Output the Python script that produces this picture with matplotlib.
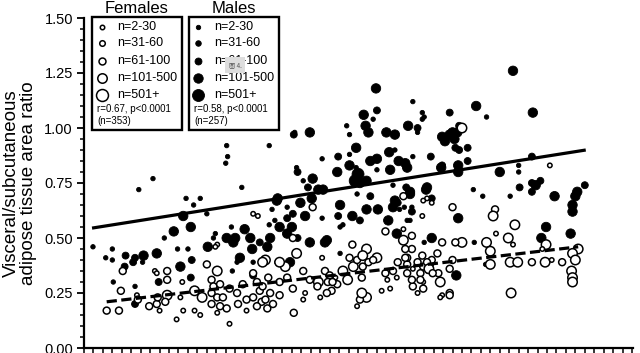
import numpy as np
import matplotlib
matplotlib.use("Agg")
import matplotlib.pyplot as plt
from matplotlib.ticker import MultipleLocator, FormatStrFormatter, NullFormatter
from matplotlib.patches import Rectangle

plt.rcParams['font.family'] = ['Liberation Sans', 'DejaVu Sans']

# size classes (study n)
size_labels = ['n=2-30', 'n=31-60', 'n=61-100', 'n=101-500', 'n=501+']
size_pt = [3.2, 4.0, 5.0, 6.8, 8.6]   # marker diameter, points

# males (filled): x, ratio, size class
male_x = [0.95, 2.3, 3.0, 3.0, 3.1, 4.4, 4.3, 5.4, 6.3, 7.7, 6.2, 5.8, 7.3, 5.4, 8.5, 9.5, 10.5, 11.3, 10.2, 7.9,
          11.3, 10.8, 11.6, 9.9, 5.2, 5.4, 11.4, 11.0,
          15.1, 15.2, 15.0, 19.6, 16.7, 12.3, 13.0, 19.9, 20.4, 19.6, 15.6, 17.0, 15.1, 16.0, 17.6, 19.7, 13.9, 13.7,
          13.1, 15.8, 17.8, 16.5, 16.2, 17.9, 15.7, 18.6,
          22.2, 23.9, 29.6, 30.6, 34.3, 36.0, 35.8, 38.7, 39.7, 27.8, 29.8, 30.1, 28.1, 32.0, 32.9, 35.3, 37.9, 38.7,
          38.2, 39.5,
          28.8, 28.1, 26.9, 25.2, 32.3, 32.9, 34.8, 36.7, 33.3, 34.0, 30.3, 31.0, 28.1, 28.8, 22.5, 22.6, 26.8, 31.0,
          32.4, 34.2, 37.9,
          29.0, 28.7, 29.2, 29.9, 24.2, 23.2, 23.7, 24.8, 25.3, 20.5, 24.1, 27.1, 32.7, 34.1, 34.5, 36.3, 32.9, 30.3,
          28.9, 22.9, 21.5, 23.4, 22.1, 26.9, 28.4, 29.9, 31.1, 27.4, 33.2, 32.7, 34.7, 36.8, 20.7, 20.2, 21.5, 25.2,
          32.2, 33.1, 25.7, 36.8, 39.6, 34.2, 19.4, 22.0, 21.5, 22.6, 29.2, 27.1,
          30.9, 31.0, 22.3, 45.4, 47.5, 41.5, 42.6, 34.8, 35.8, 35.3, 39.0, 39.2, 39.3, 39.7, 40.6, 40.6, 47.4, 37.8,
          39.6, 39.6, 44.0, 46.0, 46.0, 48.3, 47.8, 47.4, 46.1, 47.4, 53.0, 52.2, 52.0, 51.7, 51.7, 49.8, 45.1, 42.2,
          41.2, 34.5, 36.2, 33.9, 34.7, 34.5, 33.4, 48.9, 48.4, 51.5, 39.4, 41.3, 42.5, 36.0, 21.8, 23.9, 25.5, 27.1,
          20.4, 17.9, 25.8]
male_y = [0.46, 0.41, 0.40, 0.45, 0.30, 0.42, 0.37, 0.41, 0.42, 0.43, 0.39, 0.72, 0.77, 0.28, 0.50, 0.53, 0.60, 0.55,
          0.37, 0.30, 0.32, 0.68, 0.65, 0.45, 0.39, 0.20, 0.40, 0.45,
          0.92, 0.87, 0.84, 0.92, 0.73, 0.68, 0.61, 0.63, 0.67, 0.56, 0.55, 0.54, 0.50, 0.50, 0.50, 0.50, 0.52, 0.50,
          0.46, 0.48, 0.45, 0.41, 0.39, 0.39, 0.35, 0.48,
          0.97, 0.98, 1.06, 1.04, 1.01, 1.05, 1.07, 1.07, 1.01, 1.01, 1.01, 0.98, 0.97, 0.98, 0.97, 0.98, 0.96, 0.97,
          0.94, 0.98,
          0.91, 0.88, 0.87, 0.86, 0.89, 0.90, 0.87, 0.87, 0.85, 0.84, 0.85, 0.86, 0.83, 0.82, 0.82, 0.80, 0.80, 0.81,
          0.81, 0.82, 0.83,
          0.79, 0.76, 0.75, 0.76, 0.77, 0.76, 0.73, 0.72, 0.72, 0.68, 0.68, 0.65, 0.74, 0.73, 0.71, 0.73, 0.67, 0.69,
          0.70, 0.66, 0.64, 0.60, 0.61, 0.60, 0.60, 0.63, 0.63, 0.56, 0.66, 0.64, 0.64, 0.68, 0.55, 0.58, 0.59, 0.59,
          0.58, 0.52, 0.49, 0.50, 0.59, 0.58, 0.46, 0.55, 0.52, 0.50, 0.58, 0.55,
          1.18, 1.08, 0.98, 1.26, 1.07, 1.10, 1.05, 1.12, 1.04, 1.00, 0.98, 0.95, 0.91, 0.90, 0.91, 0.85, 0.87, 0.82,
          0.83, 0.80, 0.80, 0.83, 0.80, 0.76, 0.74, 0.75, 0.73, 0.71, 0.74, 0.71, 0.69, 0.65, 0.62, 0.69, 0.69, 0.69,
          0.72, 0.70, 0.72, 0.64, 0.62, 0.58, 0.63, 0.55, 0.50, 0.52, 0.33, 0.48, 0.38, 0.48, 0.39, 0.48, 0.48, 0.43,
          0.39, 0.33, 0.33]
male_n = [0, 0, 0, 0, 0, 2, 2, 2, 3, 3, 0, 0, 0, 0, 0, 3, 3, 3, 3, 2,
          2, 0, 0, 0, 2, 2, 2, 0,
          0, 0, 0, 0, 0, 0, 0, 0, 3, 0, 0, 3, 3, 3, 3, 3, 0, 0,
          3, 3, 3, 3, 0, 0, 0, 2,
          2, 3, 3, 0, 3, 0, 0, 2, 2, 0, 3, 3, 0, 3, 3, 0, 3, 3,
          3, 3,
          3, 0, 2, 0, 3, 0, 0, 2, 3, 3, 3, 3, 3, 0, 0, 2, 3, 0,
          3, 3, 2,
          4, 4, 3, 3, 3, 0, 2, 3, 3, 3, 3, 3, 0, 2, 3, 3, 3, 2,
          0, 3, 0, 3, 2, 2, 3, 3, 3, 0, 2, 3, 0, 2, 3, 0, 2, 0,
          3, 3, 3, 3, 3, 0, 3, 3, 3, 2, 2, 0,
          3, 2, 0, 3, 3, 3, 0, 0, 0, 2, 3, 3, 2, 2, 2, 2, 2, 3,
          3, 3, 3, 0, 0, 2, 3, 2, 2, 2, 2, 3, 3, 3, 3, 3, 0, 0,
          0, 3, 3, 0, 2, 0, 0, 3, 3, 3, 3, 0, 0, 0, 3, 3, 3, 0,
          0, 2, 0]

# females (open)
female_x = [2.4, 3.7, 3.9, 4.1, 5.6, 5.7, 6.9, 7.7, 7.8, 7.5, 7.7, 8.8, 8.8, 8.8, 8.6, 8.0, 9.8, 10.4, 10.5, 10.2,
            11.7, 11.7, 12.3, 12.5, 13.0, 14.1, 14.1, 13.5, 13.7, 14.4, 13.5, 14.1, 14.7, 13.5, 14.4, 15.1, 14.1, 15.4,
            15.4, 16.2, 16.8, 17.2, 16.3, 17.9, 18.3, 18.6, 17.9, 18.8, 18.3, 19.4, 19.2, 17.2,
            18.9, 19.5, 18.9, 19.7, 19.2, 20.0, 20.7, 20.7, 21.5, 21.3, 22.2, 22.1, 23.2, 23.9, 24.8, 23.4, 23.2, 25.0,
            25.2, 25.5, 26.0, 26.6, 25.8, 26.8, 26.2, 25.7, 27.9, 28.5, 28.1, 28.9, 29.5, 30.1, 29.4, 29.9, 31.0, 29.9,
            29.2, 28.9, 28.4, 31.9, 32.1, 32.7, 32.4, 33.1, 33.2, 34.2, 34.8, 35.9, 35.6, 36.6, 36.4, 34.0, 34.7, 34.2,
            34.8, 35.3, 35.9, 37.7, 37.9, 38.7, 37.5, 31.5, 34.7, 31.9, 37.9,
            40.0, 39.0, 49.3, 43.5, 43.3, 45.6, 43.6, 42.6, 43.0, 43.0, 44.9, 45.4, 48.9, 48.5, 45.1, 45.9, 47.4, 48.8,
            49.5, 50.6, 45.2, 52.3, 51.7, 52.0, 51.6, 51.7, 51.7, 40.0, 39.3, 39.0, 38.7, 37.4, 36.8, 36.3, 36.5, 36.9,
            35.8, 35.3, 34.2, 34.7, 35.6, 35.9, 37.7, 38.7, 33.8, 34.0, 34.0, 33.8, 33.8, 36.3, 36.8, 35.8, 17.9, 18.4,
            13.9, 24.2, 35.9,
            27.4, 29.5, 30.6, 29.4, 24.7, 26.3, 22.1, 20.7, 22.5]
female_y = [0.17, 0.17, 0.26, 0.35, 0.24, 0.22, 0.19, 0.20, 0.23, 0.35, 0.34, 0.35, 0.31, 0.24, 0.21, 0.17, 0.13, 0.30,
            0.17, 0.23, 0.26, 0.17, 0.15, 0.23, 0.38, 0.35, 0.47, 0.31, 0.28, 0.29, 0.25, 0.23, 0.23, 0.20, 0.19, 0.18,
            0.16, 0.11, 0.27, 0.25, 0.29, 0.22, 0.20, 0.34, 0.30, 0.26, 0.23, 0.21, 0.19, 0.18, 0.40, 0.17,
            0.39, 0.32, 0.28, 0.25, 0.22, 0.20, 0.24, 0.30, 0.32, 0.37, 0.16, 0.50, 0.35, 0.31, 0.30, 0.25, 0.22, 0.23,
            0.41, 0.35, 0.33, 0.32, 0.30, 0.29, 0.26, 0.25, 0.31, 0.37, 0.41, 0.40, 0.37, 0.39, 0.32, 0.45, 0.41, 0.23,
            0.22, 0.19, 0.47, 0.34, 0.31, 0.35, 0.27, 0.32, 0.39, 0.38, 0.36, 0.37, 0.34, 0.38, 0.35, 0.45, 0.45, 0.41,
            0.28, 0.25, 0.30, 0.30, 0.24, 0.25, 0.34, 0.26, 0.51, 0.53, 0.48,
            1.00, 0.64, 0.83, 0.63, 0.60, 0.56, 0.52, 0.48, 0.44, 0.38, 0.50, 0.47, 0.47, 0.45, 0.39, 0.39, 0.39, 0.39,
            0.40, 0.39, 0.25, 0.45, 0.43, 0.40, 0.35, 0.32, 0.30, 0.48, 0.48, 0.40, 0.36, 0.43, 0.40, 0.39, 0.36, 0.34,
            0.42, 0.39, 0.34, 0.31, 0.31, 0.27, 0.23, 0.24, 0.49, 0.45, 0.41, 0.54, 0.69, 0.68, 0.66, 0.60, 0.61, 0.60,
            0.46, 0.64, 0.67,
            0.35, 0.42, 0.40, 0.25, 0.28, 0.30, 0.27, 0.39, 0.43]
female_n = [2, 2, 2, 2, 0, 2, 2, 2, 2, 0, 0, 2, 2, 3, 2, 0, 0, 0, 0, 0,
            3, 0, 0, 3, 2, 3, 0, 2, 2, 2, 2, 2, 2, 2, 2, 2, 0, 0,
            2, 2, 2, 2, 2, 2, 2, 2, 2, 2, 2, 2, 3, 0,
            3, 2, 2, 2, 2, 2, 2, 2, 2, 3, 2, 2, 2, 2, 3, 0, 0, 0,
            0, 2, 2, 0, 2, 2, 2, 2, 3, 3, 2, 2, 2, 2, 2, 3, 3, 3,
            2, 0, 2, 2, 0, 2, 0, 0, 2, 2, 0, 2, 2, 2, 0, 0, 2, 2,
            2, 0, 0, 3, 0, 2, 2, 0, 2, 2, 2,
            3, 2, 0, 2, 3, 3, 0, 3, 3, 3, 3, 0, 3, 0, 3, 3, 2, 3,
            0, 2, 3, 3, 3, 3, 3, 3, 3, 3, 2, 2, 2, 2, 2, 2, 3, 2,
            2, 2, 2, 2, 2, 2, 0, 2, 3, 2, 2, 0, 2, 0, 0, 0, 0, 0,
            0, 2, 0,
            3, 3, 2, 3, 2, 2, 2, 3, 3]

# regression lines
male_fit_x = [0.85, 53.1]
male_fit_y = [0.545, 0.90]
female_fit_x = [2.4, 52.3]
female_fit_y = [0.21, 0.46]

male_stats = ['r=0.58, p<0.0001', '(n=257)']
female_stats = ['r=0.67, p<0.0001', '(n=353)']

W, H = 640, 353
fig = plt.figure(figsize=(W / 100, H / 100), dpi=100)
ax = fig.add_axes([84 / W, 5 / H, 549 / W, 330 / H])

ms = np.array(size_pt) ** 2
ax.scatter(male_x, male_y, s=ms[np.array(male_n)], c='black', edgecolors='black', linewidths=0.6, zorder=2)
ax.scatter(female_x, female_y, s=ms[np.array(female_n)], facecolors='white', edgecolors='black',
           linewidths=1.1, zorder=3)
ax.plot(male_fit_x, male_fit_y, color='black', lw=2.3, solid_capstyle='butt', zorder=4)
ax.plot(female_fit_x, female_fit_y, color='black', lw=2.3, dashes=(3.2, 1.4), zorder=4)

ax.set_xlim(0, 58.1)
ax.set_ylim(0, 1.5)
ax.yaxis.set_major_locator(MultipleLocator(0.25))
ax.yaxis.set_minor_locator(MultipleLocator(0.05))
ax.yaxis.set_major_formatter(FormatStrFormatter('%.2f'))
ax.xaxis.set_major_locator(MultipleLocator(1))
ax.xaxis.set_major_formatter(NullFormatter())
for s in ['top', 'right']:
    ax.spines[s].set_visible(False)
for s in ['left', 'bottom']:
    ax.spines[s].set_linewidth(1.6)
ax.tick_params(axis='y', which='major', length=5, width=1.3, labelsize=10.5, pad=3)
ax.tick_params(axis='y', which='minor', length=3, width=1.1)
ax.tick_params(axis='x', which='major', length=4, width=1.1)
ax.set_ylabel('Visceral/subcutaneous\nadipose tissue area ratio', fontsize=13.5, linespacing=1.05)
ax.yaxis.set_label_coords(-0.085, 0.5)

# legend boxes, drawn in pixel space on an overlay
ov = fig.add_axes([0, 0, 1, 1], facecolor='none')
ov.set_xlim(0, W)
ov.set_ylim(H, 0)
ov.axis('off')

row_y = [27, 43, 61, 78, 95]
for bx, title, stats, filled in [(92, 'Females', female_stats, False), (189, 'Males', male_stats, True)]:
    ov.add_patch(Rectangle((bx, 17), 90, 113, fill=False, lw=1.7, edgecolor='black'))
    ov.text(bx + 45, 13, title, ha='center', va='baseline', fontsize=12)
    for i, lab in enumerate(size_labels):
        if filled:
            ov.scatter([bx + 9], [row_y[i]], s=ms[i], c='black', edgecolors='black', linewidths=0.6)
        else:
            ov.scatter([bx + 10], [row_y[i]], s=ms[i], facecolors='white', edgecolors='black', linewidths=1.1)
        ov.text(bx + 25, row_y[i], lab, ha='left', va='center', fontsize=9)
    ov.text(bx + 5, 109, stats[0], ha='left', va='center', fontsize=7)
    ov.text(bx + 5, 121, stats[1], ha='left', va='center', fontsize=7)

ov.text(235, 65, '图 4.', ha='center', va='center', fontsize=4.5, color='#555555',
        family=['Noto Sans CJK SC', 'DejaVu Sans'],
        bbox=dict(boxstyle='square,pad=0.6', fc='#dddddd', ec='none'))

fig.savefig('out.png', dpi=100)
